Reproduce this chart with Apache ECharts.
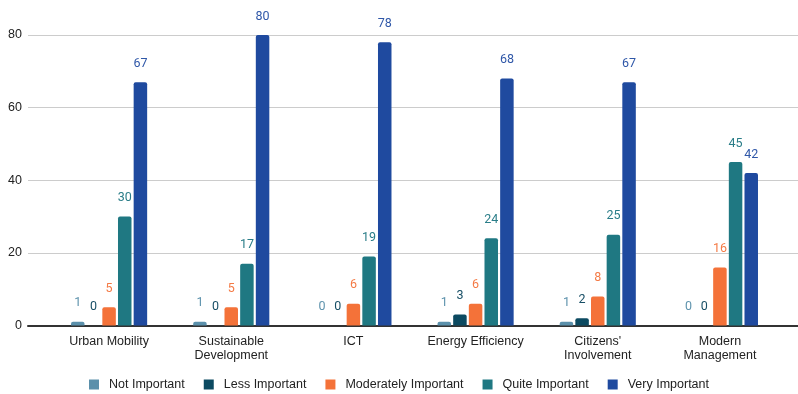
<!DOCTYPE html>
<html>
<head>
<meta charset="utf-8">
<script src="https://cdn.jsdelivr.net/npm/echarts@6/dist/echarts.min.js"></script>
<style>
html,body{margin:0;padding:0;background:#fff;}
#chart{width:798px;height:394px;}
</style>
</head>
<body>
<div id="chart"></div>
<script>
const categories = ["Urban Mobility", "Sustainable\nDevelopment", "ICT", "Energy Efficiency", "Citizens'\nInvolvement", "Modern\nManagement"];
const seriesNames = ["Not Important", "Less Important", "Moderately Important", "Quite Important", "Very Important"];
const notImportant = [1, 1, 0, 1, 1, 0];
const lessImportant = [0, 0, 0, 3, 2, 0];
const moderatelyImportant = [5, 5, 6, 6, 8, 16];
const quiteImportant = [30, 17, 19, 24, 25, 45];
const veryImportant = [67, 80, 78, 68, 67, 42];
const yTicks = [0, 20, 40, 60, 80];

const colors = ["#5b90ab", "#0c4a61", "#f47239", "#1f7882", "#1f4a9f"];
const labelColors = ["#5e93ad", "#184f66", "#f47a45", "#2a7d88", "#2f57a8"];
const values = [notImportant, lessImportant, moderatelyImportant, quiteImportant, veryImportant];

const chart = echarts.init(document.getElementById('chart'), null, {renderer: 'canvas'});
const axisFont = 'Arial, "Liberation Sans", sans-serif';

const series = values.map((v, i) => ({
  name: seriesNames[i],
  type: 'bar',
  xAxisIndex: 1,
  yAxisIndex: 1,
  data: v,
  barWidth: 13.5,
  barGap: '16%',
  itemStyle: {color: colors[i], borderRadius: [2, 2, 0, 0]},
  label: {
    show: true,
    position: 'top',
    distance: 12,
    color: labelColors[i],
    fontFamily: 'Roboto, sans-serif',
    fontSize: 12.5
  },
  emphasis: {disabled: true}
}));

chart.setOption({
  animation: false,
  color: colors,
  grid: [
    {left: 28, right: 0, top: 35, bottom: 68.5},
    {left: 48, right: 17, top: 35, bottom: 68.5}
  ],
  legend: {
    top: 373,
    left: 'center',
    itemWidth: 10,
    itemHeight: 10,
    itemGap: 19,
    icon: 'rect',
    textStyle: {fontFamily: axisFont, fontSize: 12.5, color: '#222', padding: [0, 0, 0, 5]},
    data: seriesNames
  },
  xAxis: [
    {
      gridIndex: 0, type: 'value', min: 0, max: 1,
      axisLine: {show: true, onZero: false, lineStyle: {color: '#333', width: 2}},
      axisTick: {show: false}, axisLabel: {show: false}, splitLine: {show: false}
    },
    {
      gridIndex: 1, type: 'category', data: categories,
      axisLine: {show: false}, axisTick: {show: false},
      axisLabel: {fontFamily: axisFont, fontSize: 12.5, color: '#222', margin: 9, lineHeight: 14, interval: 0}
    }
  ],
  yAxis: [
    {
      gridIndex: 0, type: 'value', min: 0, max: 80, interval: 20,
      axisLine: {show: false}, axisTick: {show: false},
      axisLabel: {fontFamily: axisFont, fontSize: 12.5, color: '#222', margin: 6,
        formatter: v => yTicks.includes(v) ? String(v) : ''},
      splitLine: {show: true, lineStyle: {color: '#cccccc', width: 1}}
    },
    {
      gridIndex: 1, type: 'value', min: 0, max: 80, interval: 20,
      axisLine: {show: false}, axisTick: {show: false}, axisLabel: {show: false},
      splitLine: {show: false}
    }
  ],
  series: series
});
</script>
</body>
</html>
